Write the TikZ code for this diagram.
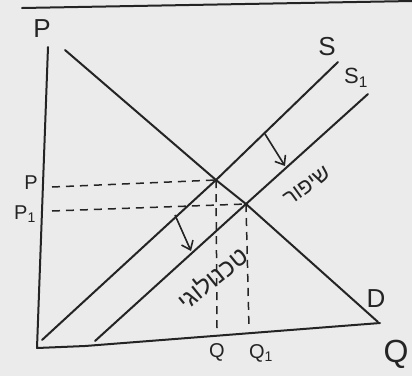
\documentclass[tikz,border=0pt]{standalone}
\usepackage{fontspec}
\setmainfont{Liberation Sans}
\newfontfamily\hebfont[Script=Hebrew]{Liberation Sans}
\TeXXeTstate=1
\usetikzlibrary{arrows.meta}
\definecolor{ink}{gray}{0.14}
\definecolor{paper}{gray}{0.92}

\begin{document}
\begin{tikzpicture}[
  x=1pt, y=-1pt,
  curve/.style={draw=ink, line width=2pt, line cap=round, line join=round},
  guide/.style={draw=ink, line width=1.5pt, dash pattern=on 8pt off 6pt},
  shiftarr/.style={draw=ink, line width=1.6pt, -{Straight Barb[length=2.8mm, width=4.4mm]}},
  lab/.style={text=ink, inner sep=0pt, font=\fontsize{26}{26}\selectfont},
  small/.style={text=ink, inner sep=0pt, font=\fontsize{20}{20}\selectfont},
  heb/.style={text=ink, inner sep=0pt, font=\hebfont\fontsize{22}{22}\selectfont}
]
\fill[paper] (0,0) rectangle (412,376);
\useasboundingbox (0,0) rectangle (412,376);

% points of the graph
\coordinate (edgeL) at (22,8);
\coordinate (edgeR) at (412,1);
\coordinate (Ptop) at (48,47);
\coordinate (O) at (37,348);
\coordinate (Ob) at (85,346);
\coordinate (Qend) at (380,323);
\coordinate (Dtop) at (65,50);
\coordinate (Dbot) at (378,322);
\coordinate (Sbot) at (42,340);
\coordinate (Stop) at (338,62);
\coordinate (S1bot) at (95,341);
\coordinate (S1top) at (368,94);
\coordinate (E) at (216,180);
\coordinate (E1) at (246,204);
\coordinate (PE) at (52,187);
\coordinate (PE1) at (52,211);
\coordinate (QE) at (217,328);
\coordinate (QE1) at (249,328);
\coordinate (a1) at (265,134);
\coordinate (b1) at (285,166);
\coordinate (a2) at (175,215);
\coordinate (b2) at (191,251);

% axes
\draw[curve] (edgeL) -- (edgeR);
\draw[curve] (Ptop) -- (O) -- (Ob) -- (Qend);
\node[lab] (Plab) at (42,29) {P};
\node[lab, font=\fontsize{32}{32}\selectfont] (Qlab) at (396,354) {Q};

% demand and supply
\draw[curve] (Dtop) -- (E) -- (E1) -- (Dbot);
\draw[curve] (Sbot) -- (E) -- (Stop);
\draw[curve] (S1bot) -- (E1) -- (S1top);
\node[lab] (Dlab) at (376,299) {D};
\node[lab] (Slab) at (327,47) {S};
\node[lab, font=\fontsize{22}{22}\selectfont] (S1lab) at (356,78) {S\textsubscript{1}};

% equilibrium guides
\draw[guide] (PE) -- (E);
\draw[guide] (PE1) -- (E1);
\draw[guide] (E) -- (QE);
\draw[guide] (E1) -- (QE1);
\node[small] (Pe) at (31,183) {P};
\node[small] (Pe1) at (25,214) {P\textsubscript{1}};
\node[small] (Qe) at (217,352) {Q};
\node[small] (Qe1) at (261,353) {Q\textsubscript{1}};

% shift of supply
\draw[shiftarr] (a1) -- (b1);
\draw[shiftarr] (a2) -- (b2);
\node[heb, rotate=36] (imp) at (307,186) {\beginR שיפור\endR};
\node[heb, font=\hebfont\fontsize{25}{25}\selectfont, rotate=39] (tech) at (212,278) {\beginR טכנולוגי\endR};
\end{tikzpicture}
\end{document}
